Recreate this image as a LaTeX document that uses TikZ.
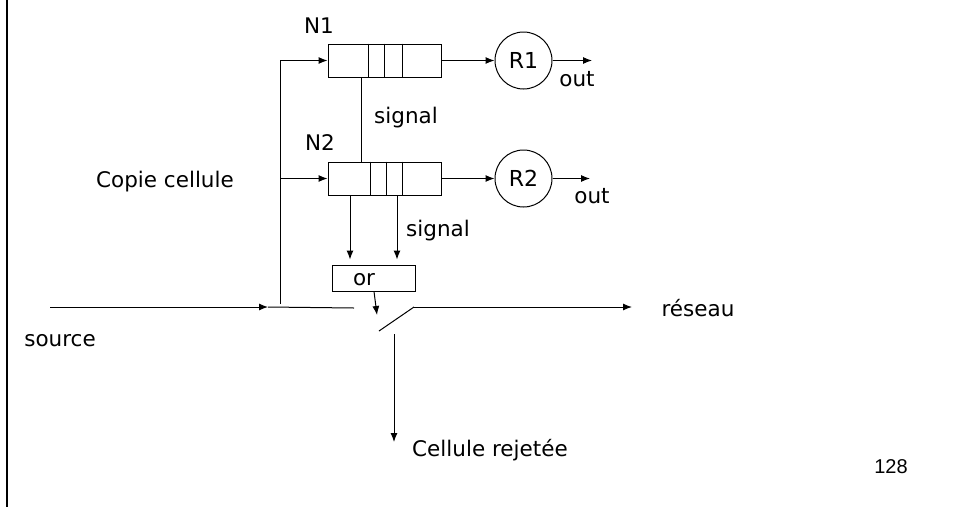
\documentclass[tikz,border=0pt]{standalone}
\usepackage{fontspec}
\setmainfont{DejaVu Sans}
\newfontfamily\numfont{Liberation Sans}
\usetikzlibrary{arrows.meta,calc}
\begin{document}
\begin{tikzpicture}[x=1pt,y=-1pt,
  wire/.style={line width=1pt},
  arr/.style={wire,-{Latex[length=9pt,width=7pt]}},
  queue/.style={draw,line width=1pt,minimum width=113pt,minimum height=33pt,inner sep=0pt},
  orbox/.style={draw,line width=1pt,minimum width=83pt,minimum height=26pt,inner sep=0pt},
  srv/.style={draw,circle,line width=1pt,minimum size=57pt,inner sep=0pt,font=\fontsize{22}{26}\selectfont},
  lbl/.style={inner sep=0pt,anchor=base,font=\fontsize{21.5}{25}\selectfont},
]
\useasboundingbox (0,0) rectangle (953,507);
\draw[line width=2pt] (7,0) -- (7,507);

% queues
\node[queue] (q1) at (384.5,60.5) {};
\node[queue] (q2) at (384.5,178.5) {};
\foreach \x in {368,384,402} \draw[wire] (\x,0 |- q1.north) -- (\x,0 |- q1.south);
\foreach \x in {370,386,402} \draw[wire] (\x,0 |- q2.north) -- (\x,0 |- q2.south);

% servers
\node[srv] (r1) at (523.5,60.5) {R1};
\node[srv] (r2) at (523.5,178.5) {R2};
\coordinate (o1) at (592,60.5);
\coordinate (o2) at (590,178.5);

% or box
\node[orbox] (orb) at (373.5,278) {};
\node[lbl] (orl) at (364,285) {or};

% copy line
\coordinate (split) at (280,304);
\coordinate (t1) at (280,60.5);
\coordinate (t2) at (280,178.5);
\draw[wire] (split) -- (t1);
\draw[arr] (t1) -- (q1.west);
\draw[arr] (t2) -- (q2.west);
\draw[arr] (q1.east) -- (r1.west);
\draw[arr] (q2.east) -- (r2.west);
\draw[arr] (r1.east) -- (o1);
\draw[arr] (r2.east) -- (o2);

% signal between queues
\draw[wire] (q1.south -| 361.5,0) -- (q2.north -| 361.5,0);

% down to or
\draw[arr,shorten >=5pt] (350,0 |- q2.south) -- (350,0 |- orb.north);
\draw[arr,shorten >=5pt] (397,0 |- q2.south) -- (397,0 |- orb.north);

% source and switch
\coordinate (src) at (50,307);
\coordinate (sw) at (268,307);
\coordinate (swin) at (354,308);
\coordinate (pa) at (379,331);
\coordinate (pb) at (414,307);
\coordinate (net) at (632,307);
\coordinate (cmd) at (377,315);
\coordinate (rj0) at (394,334);
\coordinate (rj1) at (394,442);
\draw[arr] (src) -- (sw);
\draw[wire] (sw) -- (swin);
\draw[wire] (pa) -- (pb);
\draw[arr] (pb) -- (net);
\draw[arr] (374,0 |- orb.south) -- (cmd);
\draw[arr] (rj0) -- (rj1);

% labels
\node[lbl] (n1) at (319,33) {N1};
\node[lbl] (n2) at (320,150) {N2};
\node[lbl] (s1) at (406,123) {signal};
\node[lbl] (s2) at (438,236) {signal};
\node[lbl] (out1) at (577,86) {out};
\node[lbl] (out2) at (592,203) {out};
\node[lbl] (copy) at (165,187) {Copie cellule};
\node[lbl] (source) at (60,346) {source};
\node[lbl] (reseau) at (698,316) {réseau};
\node[lbl] (rej) at (490,456) {Cellule rejetée};
\node[inner sep=0pt,anchor=base,font=\numfont\fontsize{20}{24}\selectfont] (pg) at (891,473) {128};
\end{tikzpicture}
\end{document}
